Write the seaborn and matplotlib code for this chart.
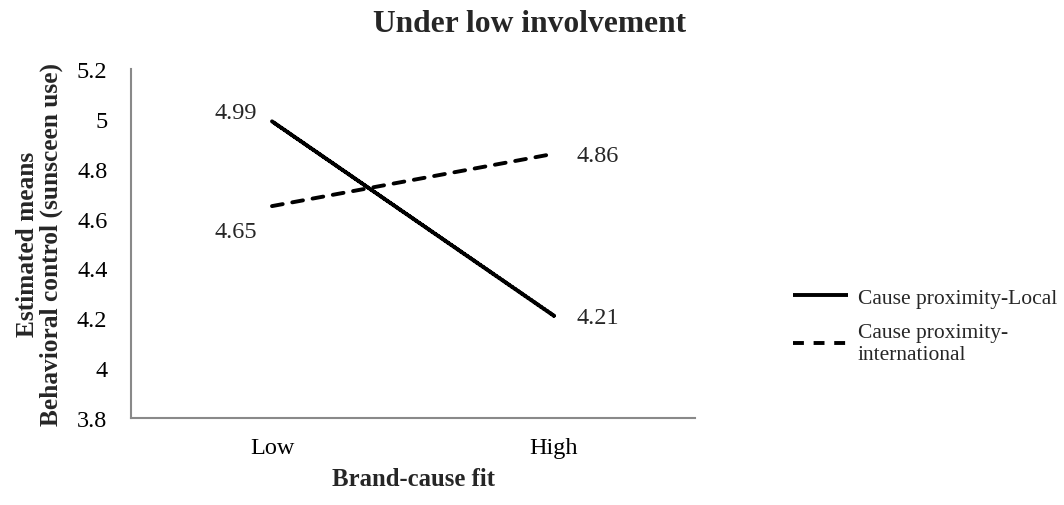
import matplotlib
matplotlib.use("Agg")
import matplotlib.pyplot as plt
import seaborn as sns
import pandas as pd

categories = ["Low", "High"]
series_names = ["Cause proximity-Local", "Cause proximity-\ninternational"]
local_values = [4.99, 4.21]
intl_values = [4.65, 4.86]
y_ticks = [3.8, 4.0, 4.2, 4.4, 4.6, 4.8, 5.0, 5.2]
y_tick_labels = ["3.8", "4", "4.2", "4.4", "4.6", "4.8", "5", "5.2"]

df = pd.DataFrame({
    "fit": categories * 2,
    "mean": local_values + intl_values,
    "series": [series_names[0]] * 2 + [series_names[1]] * 2,
})

sns.set_theme(style="white")
plt.rcParams["font.family"] = ["Liberation Serif", "DejaVu Serif"]

TICK_FS = 17.5
LW = 2.8

fig = plt.figure(figsize=(10.64, 5.06), dpi=100)
ax = fig.add_axes([131 / 1064, 87 / 506, 564 / 1064, 349 / 506])

sns.lineplot(data=df, x="fit", y="mean", hue="series", style="series",
             palette=["black", "black"], dashes=[(1, 0), (2.8, 2.5)],
             linewidth=LW, ax=ax, sort=False, legend=True,
             dash_capstyle="round", solid_capstyle="round")

ax.set_xlim(-0.5, 1.5)
ax.set_ylim(3.8, 5.2)
ax.set_yticks(y_ticks)
ax.set_yticklabels(y_tick_labels)
ax.tick_params(axis="both", length=0, labelsize=TICK_FS, colors="black")
ax.tick_params(axis="y", pad=17)
ax.tick_params(axis="x", pad=14)
for s in ["top", "right"]:
    ax.spines[s].set_visible(False)
for s in ["left", "bottom"]:
    ax.spines[s].set_color("#898989")
    ax.spines[s].set_linewidth(1.5)

ax.set_xlabel("Brand-cause fit", fontsize=17.8, fontweight="bold", labelpad=6)
ax.set_ylabel("Estimated means\nBehavioral control (sunsceen use)", fontsize=18.3,
              fontweight="bold", labelpad=10, linespacing=1.05)
ax.set_title("Under low involvement", fontsize=22.7, fontweight="bold", pad=27, x=0.707)

# data labels
ax.annotate(f"{local_values[0]:.2f}", (0, local_values[0]), xytext=(-10.8, 6.5),
            textcoords="offset points", ha="right", va="center", fontsize=TICK_FS)
ax.annotate(f"{local_values[1]:.2f}", (1, local_values[1]), xytext=(16.5, -1),
            textcoords="offset points", ha="left", va="center", fontsize=TICK_FS)
ax.annotate(f"{intl_values[0]:.2f}", (0, intl_values[0]), xytext=(-10.8, -18),
            textcoords="offset points", ha="right", va="center", fontsize=TICK_FS)
ax.annotate(f"{intl_values[1]:.2f}", (1, intl_values[1]), xytext=(16.5, -1.5),
            textcoords="offset points", ha="left", va="center", fontsize=TICK_FS)

leg = ax.legend(loc="center left", bbox_to_anchor=(1.174, 0.264), frameon=False,
                fontsize=15.5, handlelength=2.55, handletextpad=0.46,
                labelspacing=0.72, borderaxespad=0, borderpad=0)
for line in leg.get_lines():
    line.set_linewidth(LW)
    line.set_dash_capstyle("butt")

fig.savefig("out.png", dpi=100, facecolor="white")
